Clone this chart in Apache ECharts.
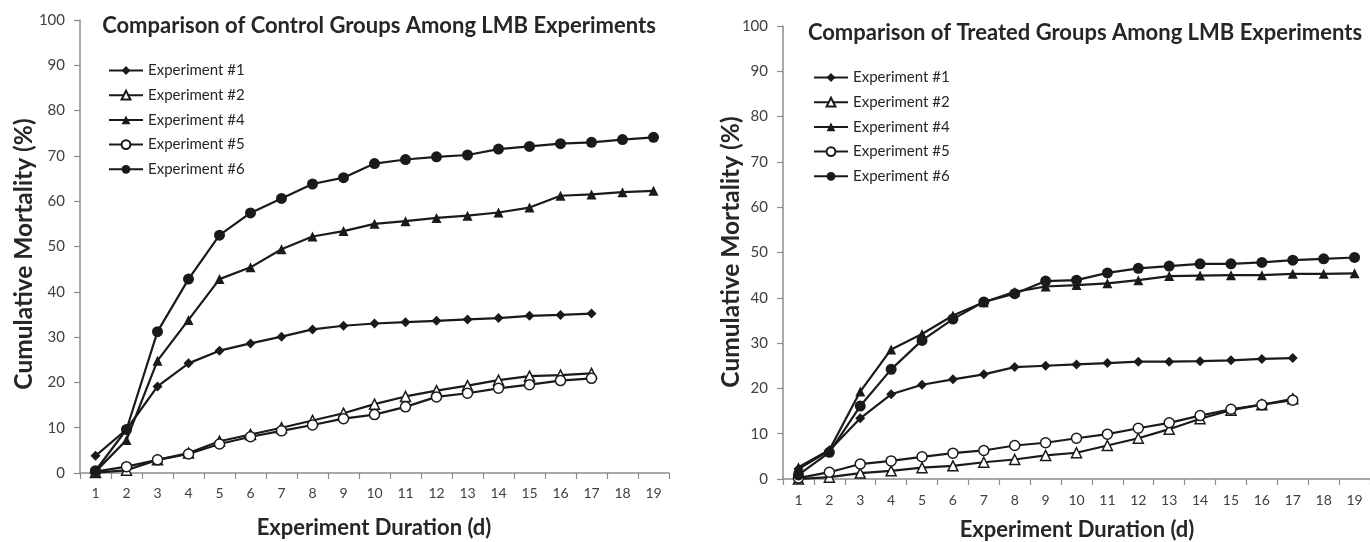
<!DOCTYPE html>
<html>
<head>
<meta charset="utf-8">
<title>Cumulative mortality in LMB experiments</title>
<script src="https://cdn.jsdelivr.net/npm/echarts@6/dist/echarts.min.js"></script>
<style>
  html, body { margin: 0; padding: 0; background: #fff; }
  #chart { width: 1370px; height: 542px; }
</style>
</head>
<body>
<div id="chart"></div>
<script>
// Experiment day (category axis)
const days = ['1','2','3','4','5','6','7','8','9','10','11','12','13','14','15','16','17','18','19'];
const yTicks = { min: 0, max: 100, step: 10 };

const seriesNames = ['Experiment #1', 'Experiment #2', 'Experiment #4', 'Experiment #5', 'Experiment #6'];

// Control groups: cumulative mortality (%)
const control1 = [3.8, 9.6, 19.1, 24.2, 27.0, 28.6, 30.1, 31.7, 32.5, 33.0, 33.3, 33.6, 33.9, 34.2, 34.7, 34.9, 35.2];
const control2 = [0.1, 0.6, 2.9, 4.4, 7.0, 8.5, 10.0, 11.6, 13.2, 15.2, 16.9, 18.2, 19.3, 20.5, 21.4, 21.6, 22.0];
const control4 = [0.3, 7.3, 24.8, 33.8, 42.8, 45.4, 49.4, 52.2, 53.4, 55.0, 55.6, 56.3, 56.8, 57.5, 58.6, 61.2, 61.5, 62.0, 62.3];
const control5 = [0.3, 1.4, 2.9, 4.2, 6.4, 8.0, 9.3, 10.6, 12.0, 12.9, 14.6, 16.8, 17.6, 18.7, 19.5, 20.4, 20.9];
const control6 = [0.5, 9.6, 31.2, 42.8, 52.5, 57.4, 60.6, 63.8, 65.2, 68.3, 69.2, 69.8, 70.2, 71.5, 72.1, 72.7, 73.0, 73.6, 74.1];

// Treated groups: cumulative mortality (%)
const treated1 = [2.2, 6.3, 13.4, 18.7, 20.8, 22.0, 23.1, 24.7, 25.0, 25.3, 25.6, 25.9, 25.9, 26.0, 26.2, 26.5, 26.7];
const treated2 = [0.0, 0.4, 1.3, 1.8, 2.5, 2.9, 3.7, 4.3, 5.2, 5.8, 7.4, 9.0, 11.0, 13.3, 15.2, 16.4, 17.7];
const treated4 = [2.6, 6.4, 19.3, 28.6, 32.0, 36.1, 39.0, 41.3, 42.5, 42.8, 43.2, 43.9, 44.8, 44.9, 45.0, 45.0, 45.3, 45.3, 45.4];
const treated5 = [0.2, 1.5, 3.3, 4.0, 4.9, 5.7, 6.3, 7.4, 8.0, 9.0, 9.9, 11.2, 12.4, 14.0, 15.4, 16.4, 17.4];
const treated6 = [0.9, 5.9, 16.1, 24.2, 30.6, 35.3, 39.1, 40.9, 43.7, 43.9, 45.5, 46.5, 47.0, 47.5, 47.5, 47.8, 48.3, 48.6, 48.9];

const panelTitles = ['Comparison of Control Groups Among LMB Experiments', 'Comparison of Treated Groups Among LMB Experiments'];
const xAxisTitle = 'Experiment Duration (d)';
const yAxisTitle = 'Cumulative Mortality (%)';

const FONT = 'Lato, "Open Sans", sans-serif';
const INK = '#1a1a1a';
const AXIS = '#8c8c8c';

// marker style per experiment: [symbol, filled, size]
const markers = {
  'Experiment #1': ['diamond', true, 10],
  'Experiment #2': ['triangle', false, 10],
  'Experiment #4': ['triangle', true, 10],
  'Experiment #5': ['circle', false, 10],
  'Experiment #6': ['circle', true, 11]
};

function makeSeries(name, values, idx) {
  const m = markers[name];
  return {
    name: name,
    type: 'line',
    xAxisIndex: idx,
    yAxisIndex: idx,
    data: values,
    symbol: m[0],
    symbolSize: m[2],
    showAllSymbol: true,
    z: 2,
    lineStyle: { color: INK, width: 2.2 },
    itemStyle: { color: m[1] ? INK : '#ffffff', borderColor: INK, borderWidth: m[1] ? 0 : 1.5 },
    emphasis: { disabled: true },
    animation: false
  };
}

const controlSets = [control1, control2, control4, control5, control6];
const treatedSets = [treated1, treated2, treated4, treated5, treated6];

const series = [];
seriesNames.forEach((n, i) => series.push(makeSeries(n, controlSets[i], 0)));
seriesNames.forEach((n, i) => series.push(makeSeries(n, treatedSets[i], 1)));

const grids = [
  { left: 80, top: 20, width: 589, height: 453 },
  { left: 783, top: 26, width: 587, height: 453 }
];

function makeXAxis(gi, margin) {
  return {
    type: 'category', gridIndex: gi, data: days, boundaryGap: true,
    axisLine: { show: true, lineStyle: { color: AXIS, width: 1.5 } },
    axisTick: { show: true, length: 6, lineStyle: { color: AXIS, width: 1.2 }, alignWithLabel: false },
    axisLabel: { fontFamily: FONT, fontSize: 14, color: '#404040', margin: margin, interval: 0 },
    splitLine: { show: false }
  };
}
function makeYAxis(gi) {
  return {
    type: 'value', gridIndex: gi, min: yTicks.min, max: yTicks.max, interval: yTicks.step,
    axisLine: { show: true, lineStyle: { color: AXIS, width: 1.5 } },
    axisTick: { show: true, length: 6, lineStyle: { color: AXIS, width: 1.2 } },
    axisLabel: { fontFamily: FONT, fontSize: 15, color: '#404040', margin: 15 },
    splitLine: { show: false }
  };
}

function legendAt(left, top) {
  return {
    orient: 'vertical', left: left, top: top, padding: 0,
    itemWidth: 34, itemHeight: 11, itemGap: 9.7,
    selectedMode: false,
    textStyle: { fontFamily: FONT, fontSize: 15, color: '#262626' },
    data: seriesNames
  };
}

function label(text, x, y, size, rotate) {
  return {
    type: 'text', x: x, y: y, rotation: rotate ? Math.PI / 2 : 0, silent: true,
    style: {
      text: text, fill: '#262626', font: 'bold ' + size + 'px ' + FONT,
      textAlign: 'center', textVerticalAlign: 'middle'
    }
  };
}

const option = {
  animation: false,
  backgroundColor: '#ffffff',
  grid: grids,
  xAxis: [makeXAxis(0, 13), makeXAxis(1, 14)],
  yAxis: [makeYAxis(0), makeYAxis(1)],
  legend: [legendAt(108, 63), legendAt(813, 70)],
  graphic: [
    label(panelTitles[0], 379, 26, 22, false),
    label(panelTitles[1], 1085, 33, 22, false),
    label(xAxisTitle, 374, 528, 22, false),
    label(xAxisTitle, 1077, 530, 22, false),
    label(yAxisTitle, 24, 254, 24.5, true),
    label(yAxisTitle, 731, 252, 24.5, true)
  ],
  series: series
};

const chart = echarts.init(document.getElementById('chart'), null, { renderer: 'canvas' });
chart.setOption(option);
</script>
</body>
</html>
